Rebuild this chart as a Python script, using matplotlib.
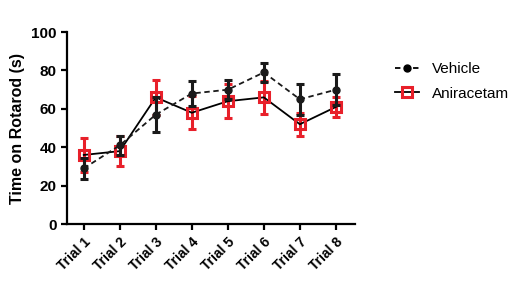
import matplotlib
matplotlib.use("Agg")
import matplotlib.pyplot as plt
import numpy as np

plt.rcParams['font.family'] = ['Liberation Sans', 'DejaVu Sans']

trials = ['Trial 1', 'Trial 2', 'Trial 3', 'Trial 4', 'Trial 5', 'Trial 6', 'Trial 7', 'Trial 8']
vehicle = [29, 41, 57, 68, 70, 79, 65, 70]
vehicle_err = [5.5, 5, 9, 6.5, 5, 5, 8, 8]
aniracetam = [36, 38, 66, 58, 64, 66, 52, 61]
aniracetam_err = [9, 8, 9, 8.5, 9, 8.5, 6, 5]

x = np.arange(1, len(trials) + 1)

fig = plt.figure(figsize=(5.22, 2.84), dpi=100)
ax = fig.add_axes([0.128, 0.211, 0.552, 0.676])

# aniracetam: red error bars and open squares, black solid line
ax.errorbar(x, aniracetam, yerr=aniracetam_err, fmt='none', ecolor='#e8202a',
            elinewidth=2.2, capsize=3, capthick=2.2, zorder=2)
ax.plot(x, aniracetam, color='black', lw=1.3, zorder=3)
ax.plot(x, aniracetam, ls='none', marker='s', ms=7, mfc='none', mec='#e8202a',
        mew=2.2, zorder=4)

# vehicle: black dashed with filled circles
ax.errorbar(x, vehicle, yerr=vehicle_err, fmt='none', ecolor='#1a1a1a',
            elinewidth=2.2, capsize=3, capthick=2.2, zorder=5)
ax.plot(x, vehicle, color='#1a1a1a', ls=(0, (3, 2)), lw=1.3, marker='o', ms=5,
        zorder=6)

ax.set_xlim(0.53, 8.53)
ax.set_ylim(0, 100)
ax.set_yticks([0, 20, 40, 60, 80, 100])
ax.set_xticks(x)
ax.set_xticklabels(trials, rotation=45, ha='right', rotation_mode='anchor',
                   fontweight='bold', fontsize=10)
for lab in ax.get_yticklabels():
    lab.set_fontweight('bold')
    lab.set_fontsize(11)
ax.set_ylabel('Time on Rotarod (s)', fontweight='bold', fontsize=11.5)

for side in ['top', 'right']:
    ax.spines[side].set_visible(False)
for side in ['left', 'bottom']:
    ax.spines[side].set_linewidth(1.6)
ax.tick_params(width=1.6, length=4)

h1, = ax.plot([], [], color='black', ls=(0, (3, 2)), lw=1.3, marker='o', ms=5)
h2, = ax.plot([], [], color='black', lw=1.3, marker='s', ms=7, mfc='none',
              mec='#e8202a', mew=2.2)
fig.legend([h1, h2], ['Vehicle', 'Aniracetam'], loc='upper left',
           bbox_to_anchor=(0.73, 0.83), frameon=False, fontsize=11,
           handlelength=1.6, labelspacing=0.7)

fig.savefig('out.png', dpi=100)
